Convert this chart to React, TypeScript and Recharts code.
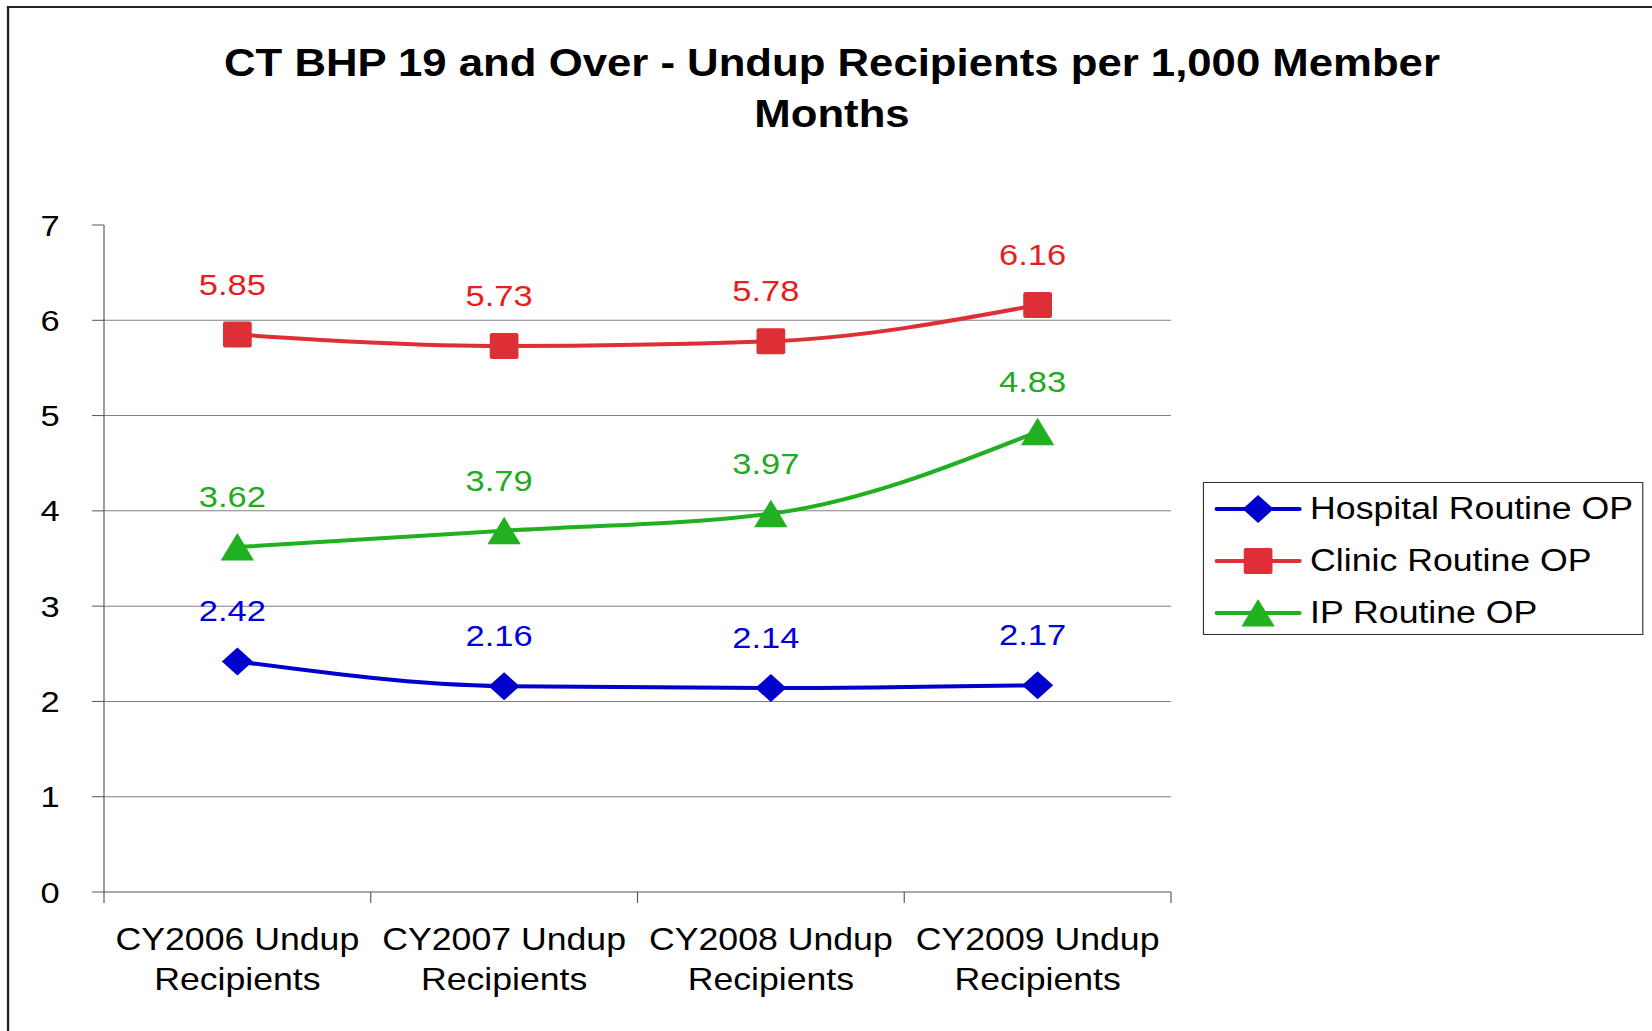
import React from 'react'
import { LineChart, Line, XAxis, YAxis, CartesianGrid, LabelList } from 'recharts'

// the source picture is stretched sideways, so draw narrower and scale back up
const S = 1.15
const W = 1652
const H = 1031
const FONT = '"Liberation Sans", Arial, sans-serif'

const categories = [
  'CY2006 Undup Recipients',
  'CY2007 Undup Recipients',
  'CY2008 Undup Recipients',
  'CY2009 Undup Recipients',
]
const hospitalRoutineOP = [2.42, 2.16, 2.14, 2.17]
const clinicRoutineOP = [5.85, 5.73, 5.78, 6.16]
const ipRoutineOP = [3.62, 3.79, 3.97, 4.83]
const yTicks = [0, 1, 2, 3, 4, 5, 6, 7]
const gridValues = [1, 2, 3, 4, 5, 6]

const series = [
  { key: 'hospital', name: 'Hospital Routine OP', color: '#0000CC', label: '#0000DD', shape: 'diamond' },
  { key: 'clinic', name: 'Clinic Routine OP', color: '#DE2E36', label: '#E61E1E', shape: 'square' },
  { key: 'ip', name: 'IP Routine OP', color: '#20B020', label: '#22AA22', shape: 'triangle' },
]

const data = categories.map((name, i) => ({
  name,
  hospital: hospitalRoutineOP[i],
  clinic: clinicRoutineOP[i],
  ip: ipRoutineOP[i],
}))

// plot box in page pixels
const PLOT_LEFT = 104
const PLOT_RIGHT = 1171
const PLOT_TOP = 225
const PLOT_BOTTOM = 892
const X_AXIS_H = 110
const BAND = (PLOT_RIGHT - PLOT_LEFT) / S / categories.length

const Marker = ({ cx, cy, shape, color }: any) => {
  if (cx == null || cy == null) return null
  if (shape === 'diamond') {
    return <polygon points={`${cx},${cy - 14} ${cx + 13.5},${cy} ${cx},${cy + 14} ${cx - 13.5},${cy}`} fill={color} />
  }
  if (shape === 'square') {
    return <rect x={cx - 12.5} y={cy - 13} width={25} height={26} rx={2} fill={color} />
  }
  return <polygon points={`${cx},${cy - 14} ${cx + 14.5},${cy + 13.5} ${cx - 14.5},${cy + 13.5}`} fill={color} />
}

const makeLabel = (color: string) => (props: any) => {
  const { x, y, value } = props
  return (
    <text x={x - 5 / S} y={y - 40} textAnchor="middle" fontSize={30} fontFamily={FONT} fill={color}>
      {value.toFixed(2)}
    </text>
  )
}

const XTick = ({ x, payload, index }: any) => {
  const v: string = payload.value
  const cut = v.lastIndexOf(' ')
  const last = index === categories.length - 1
  return (
    <g>
      <line x1={x - BAND / 2} y1={PLOT_BOTTOM} x2={x - BAND / 2} y2={PLOT_BOTTOM + 11} stroke="#555" />
      {last && <line x1={x + BAND / 2} y1={PLOT_BOTTOM} x2={x + BAND / 2} y2={PLOT_BOTTOM + 11} stroke="#555" />}
      <text x={x} y={950} textAnchor="middle" fontSize={31} fontFamily={FONT} fill="#000">
        {v.slice(0, cut)}
      </text>
      <text x={x} y={990} textAnchor="middle" fontSize={31} fontFamily={FONT} fill="#000">
        {v.slice(cut + 1)}
      </text>
    </g>
  )
}

const LegendIcon = ({ shape, color }: any) => (
  <svg width={76} height={30} style={{ display: 'block' }}>
    <line x1={2} y1={15} x2={74} y2={15} stroke={color} strokeWidth={4} strokeLinecap="round" />
    <Marker cx={38} cy={15} shape={shape} color={color} />
  </svg>
)

export default function App() {
  return (
    <div style={{ position: 'fixed', left: 0, top: 0, width: W, height: H, overflow: 'hidden', background: '#fff' }}>
      <div style={{ position: 'absolute', left: 0, top: 0, width: W / S, height: H, transform: `scaleX(${S})`, transformOrigin: '0 0' }}>
        <div style={{ position: 'absolute', left: 7 / S, top: 6, width: 3000, height: 3000, borderTop: '2px solid #222', borderLeft: '2px solid #222' }} />

        <div
          style={{
            position: 'absolute',
            left: 832 / S - 700,
            top: 38,
            width: 1400,
            textAlign: 'center',
            fontFamily: FONT,
            fontWeight: 'bold',
            fontSize: 38,
            lineHeight: '51px',
            color: '#000',
          }}
        >
          CT BHP 19 and Over - Undup Recipients per 1,000 Member
          <br />
          Months
        </div>

        <div style={{ position: 'absolute', left: 0, top: 0 }}>
          <LineChart
            width={W / S}
            height={H}
            data={data}
            margin={{ top: PLOT_TOP, right: W / S - PLOT_RIGHT / S, bottom: H - PLOT_BOTTOM - X_AXIS_H, left: 0 }}
          >
            <CartesianGrid horizontal vertical={false} horizontalValues={gridValues} stroke="#808080" />
            <XAxis
              dataKey="name"
              padding={{ left: BAND / 2, right: BAND / 2 }}
              height={X_AXIS_H}
              axisLine={{ stroke: '#555' }}
              tickLine={false}
              tick={<XTick />}
              interval={0}
            />
            <YAxis
              width={PLOT_LEFT / S}
              domain={[0, 7]}
              ticks={yTicks}
              axisLine={{ stroke: '#555' }}
              tickLine={{ stroke: '#555' }}
              tickSize={12 / S}
              tickMargin={28}
              tick={{ fontSize: 30, fontFamily: FONT, fill: '#000' }}
            />
            {series.map((s) => (
              <Line
                key={s.key}
                dataKey={s.key}
                name={s.name}
                type="monotone"
                stroke={s.color}
                strokeWidth={4}
                dot={(p: any) => <Marker key={`${s.key}-${p.index}`} cx={p.cx} cy={p.cy} shape={s.shape} color={s.color} />}
                activeDot={false}
                isAnimationActive={false}
              >
                <LabelList dataKey={s.key} content={makeLabel(s.label)} />
              </Line>
            ))}
          </LineChart>
        </div>

        <div
          style={{
            position: 'absolute',
            left: 1203 / S,
            top: 482,
            width: (1643 - 1203) / S,
            height: 153,
            border: '1.5px solid #333',
            boxSizing: 'border-box',
            fontFamily: FONT,
            fontSize: 31,
            color: '#000',
          }}
        >
          {series.map((s, i) => (
            <div
              key={s.key}
              style={{ position: 'absolute', left: 1213 / S - 1203 / S, top: 26 + i * 52 - 15, height: 30, display: 'flex', alignItems: 'center', whiteSpace: 'nowrap' }}
            >
              <LegendIcon shape={s.shape} color={s.color} />
              <span style={{ marginLeft: 1309 / S - 1213 / S - 76 }}>{s.name}</span>
            </div>
          ))}
        </div>
      </div>
    </div>
  )
}
